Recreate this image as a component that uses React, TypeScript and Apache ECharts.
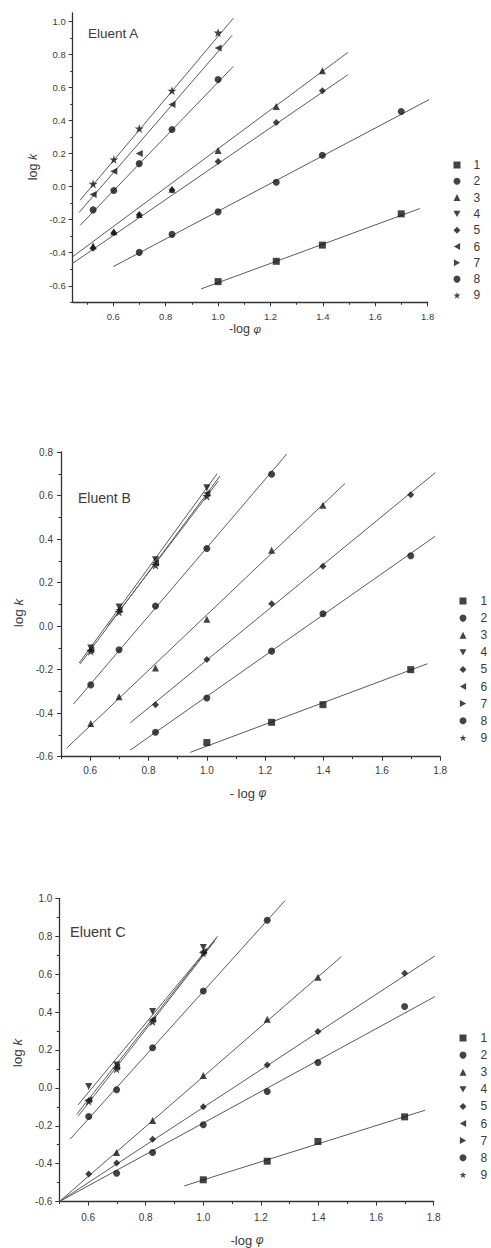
import React, { useEffect, useRef } from "react";
import * as echarts from "echarts";

// ---------- data ----------
const NAMES = ["1", "2", "3", "4", "5", "6", "7", "8", "9"];
const STAR =
  "path://M50,0L61.2,34.5L97.6,34.5L68.2,55.9L79.4,90.5L50,69.1L20.6,90.5L31.8,55.9L2.4,34.5L38.8,34.5Z";
const TRI_DOWN = "path://M0,0L10,0L5,9Z";
const TRI_LEFT = "path://M9,0L9,10L0,5Z";
const TRI_RIGHT = "path://M0,0L0,10L9,5Z";
const SYMBOLS = ["rect", "circle", "triangle", TRI_DOWN, "diamond", TRI_LEFT, TRI_RIGHT, "circle", STAR];

const X_TICKS = [0.6, 0.8, 1.0, 1.2, 1.4, 1.6, 1.8];
const X_MINOR = [0.5, 0.7, 0.9, 1.1, 1.3, 1.5, 1.7];
const Y_TICKS_A = [-0.6, -0.4, -0.2, 0.0, 0.2, 0.4, 0.6, 0.8, 1.0];
const Y_MINOR_A = [-0.7, -0.5, -0.3, -0.1, 0.1, 0.3, 0.5, 0.7, 0.9];
const Y_TICKS_B = [-0.6, -0.4, -0.2, 0.0, 0.2, 0.4, 0.6, 0.8];
const Y_MINOR_B = [-0.5, -0.3, -0.1, 0.1, 0.3, 0.5, 0.7];
const Y_TICKS_C = [-0.6, -0.4, -0.2, 0.0, 0.2, 0.4, 0.6, 0.8, 1.0];
const Y_MINOR_C = [-0.5, -0.3, -0.1, 0.1, 0.3, 0.5, 0.7, 0.9];

// Eluent A: measured points per compound 1..9 ( [-log phi, log k] )
const POINTS_A = [
  [[1.0, -0.575], [1.222, -0.452], [1.398, -0.354], [1.699, -0.165]],
  [[0.699, -0.398], [0.824, -0.289], [1.0, -0.153], [1.222, 0.026], [1.398, 0.189], [1.699, 0.454]],
  [[0.523, -0.358], [0.602, -0.273], [0.699, -0.169], [0.824, -0.016], [1.0, 0.219], [1.222, 0.484], [1.398, 0.7]],
  [],
  [[0.523, -0.373], [0.602, -0.28], [0.699, -0.17], [0.824, -0.02], [1.0, 0.152], [1.222, 0.387], [1.398, 0.58]],
  [[0.523, -0.048], [0.602, 0.092], [0.699, 0.2], [0.824, 0.496], [1.0, 0.839]],
  [],
  [[0.523, -0.141], [0.602, -0.024], [0.699, 0.139], [0.824, 0.345], [1.0, 0.648]],
  [[0.523, 0.016], [0.602, 0.164], [0.699, 0.351], [0.824, 0.58], [1.0, 0.931]],
];
// Eluent A: fitted straight lines (start, end)
const FITS_A = [
  [[0.935, -0.619], [1.77, -0.133]],
  [[0.6, -0.484], [1.81, 0.53]],
  [[0.445, -0.464], [1.495, 0.676]],
  [[0.445, -0.424], [1.495, 0.811]],
  [[0.473, -0.235], [1.058, 0.727]],
  [[0.469, -0.157], [1.054, 0.916]],
  [[0.473, -0.083], [1.058, 1.018]],
];

const POINTS_B = [
  [[1.0, -0.535], [1.222, -0.442], [1.398, -0.361], [1.699, -0.2]],
  [[0.824, -0.488], [1.0, -0.33], [1.222, -0.115], [1.398, 0.057], [1.699, 0.323]],
  [[0.602, -0.447], [0.699, -0.324], [0.824, -0.192], [1.0, 0.031], [1.222, 0.349], [1.398, 0.555]],
  [[0.602, -0.1], [0.699, 0.088], [0.824, 0.305], [1.0, 0.636]],
  [[0.824, -0.361], [1.0, -0.153], [1.222, 0.103], [1.398, 0.275], [1.699, 0.604]],
  [[0.602, -0.11], [0.699, 0.075], [0.824, 0.29], [1.0, 0.61]],
  [],
  [[0.602, -0.27], [0.699, -0.109], [0.824, 0.092], [1.0, 0.357], [1.222, 0.698]],
  [[0.602, -0.115], [0.699, 0.065], [0.824, 0.28], [1.0, 0.597]],
];
const FITS_B = [
  [[0.943, -0.58], [1.756, -0.173]],
  [[0.737, -0.57], [1.783, 0.413]],
  [[0.737, -0.445], [1.783, 0.705]],
  [[0.52, -0.56], [1.474, 0.656]],
  [[0.543, -0.358], [1.274, 0.791]],
  [[0.562, -0.17], [1.035, 0.7]],
  [[0.565, -0.175], [1.045, 0.69]],
  [[0.66, 0.0], [1.04, 0.668]],
];

const POINTS_C = [
  [[1.0, -0.485], [1.222, -0.387], [1.398, -0.283], [1.699, -0.153]],
  [[0.699, -0.45], [0.824, -0.341], [1.0, -0.195], [1.222, -0.019], [1.398, 0.134], [1.699, 0.429]],
  [[0.699, -0.341], [0.824, -0.172], [1.0, 0.065], [1.222, 0.362], [1.398, 0.584]],
  [[0.602, 0.007], [0.699, 0.12], [0.824, 0.403], [1.0, 0.74]],
  [[0.602, -0.454], [0.699, -0.397], [0.824, -0.271], [1.0, -0.099], [1.222, 0.12], [1.398, 0.297], [1.699, 0.605]],
  [[0.602, -0.063], [0.699, 0.11], [0.824, 0.36], [1.0, 0.72]],
  [],
  [[0.602, -0.151], [0.699, -0.01], [0.824, 0.212], [1.0, 0.511], [1.222, 0.884]],
  [[0.602, -0.07], [0.699, 0.1], [0.824, 0.35], [1.0, 0.711]],
];
const FITS_C = [
  [[0.934, -0.517], [1.77, -0.118]],
  [[0.5, -0.6], [1.805, 0.482]],
  [[0.5, -0.6], [1.805, 0.697]],
  [[0.5, -0.6], [1.48, 0.693]],
  [[0.5375, -0.271], [1.284, 0.988]],
  [[0.565, -0.09], [1.05, 0.8]],
  [[0.56, -0.14], [1.045, 0.79]],
  [[0.565, -0.15], [1.04, 0.775]],
];

const TITLES = ["Eluent A", "Eluent B", "Eluent C"];
const X_NAMES = ["-log ", "- log ", "-log "];

// ---------- styling / layout ----------
const FONT = '"Liberation Sans", Arial, Helvetica, sans-serif';
const TEXT = "#3a3a3a";
const AXIS = "#333";
const LINE = "#5a5a5a";
const MARK = "#141414";

const PANELS = [
  {
    grid: { left: 72.7, top: 13, width: 355, height: 289.3 },
    xMin: 0.445, yMin: -0.7, yMax: 1.05,
    yTicks: Y_TICKS_A, yMinor: Y_MINOR_A, points: POINTS_A, fits: FITS_A,
    xMargin: 9, yMargin: 7, tickFont: 9.5,
    title: { x: 88, y: 33, size: 13.5 },
    yName: { x: 33, y: 167, size: 12.5 },
    xName: { x: 245, y: 329, size: 12.5 },
    legend: { left: 448.5, top: 154, gap: 4.3, pad: 8 },
  },
  {
    grid: { left: 61, top: 452, width: 379.2, height: 304.7 },
    xMin: 0.5, yMin: -0.6, yMax: 0.8,
    yTicks: Y_TICKS_B, yMinor: Y_MINOR_B, points: POINTS_B, fits: FITS_B,
    xMargin: 9, yMargin: 8, tickFont: 10,
    title: { x: 78, y: 498, size: 14 },
    yName: { x: 18, y: 613, size: 13.5 },
    xName: { x: 248, y: 793, size: 13 },
    legend: { left: 454.5, top: 590, gap: 5.1, pad: 9 },
  },
  {
    grid: { left: 59.3, top: 898.3, width: 374.4, height: 303.3 },
    xMin: 0.5, yMin: -0.6, yMax: 1.0,
    yTicks: Y_TICKS_C, yMinor: Y_MINOR_C, points: POINTS_C, fits: FITS_C,
    xMargin: 11, yMargin: 7, tickFont: 10,
    title: { x: 70, y: 932, size: 14.5 },
    yName: { x: 17, y: 1053, size: 13.5 },
    xName: { x: 247, y: 1240, size: 13 },
    legend: { left: 454.5, top: 1027, gap: 5.1, pad: 9 },
  },
];

function buildOption() {
  const grid: any[] = [];
  const xAxis: any[] = [];
  const yAxis: any[] = [];
  const series: any[] = [];
  const legend: any[] = [];
  const graphic: any[] = [];
  const n = PANELS.length;

  PANELS.forEach((p, i) => {
    grid[i] = { ...p.grid, containLabel: false };
    grid[i + n] = { ...p.grid, containLabel: false };
    const labelStyle = { fontSize: p.tickFont, color: TEXT, fontFamily: FONT };
    xAxis[i] = {
      type: "value", gridIndex: i, min: p.xMin, max: 1.8, position: "bottom",
      axisLine: { onZero: false, lineStyle: { color: AXIS, width: 1.3 } },
      axisTick: { show: true, length: 4, customValues: X_TICKS, lineStyle: { color: AXIS, width: 1 } },
      axisLabel: { customValues: X_TICKS, margin: p.xMargin, formatter: (v: number) => v.toFixed(1), ...labelStyle },
      splitLine: { show: false },
    };
    yAxis[i] = {
      type: "value", gridIndex: i, min: p.yMin, max: p.yMax, position: "left",
      axisLine: { onZero: false, lineStyle: { color: AXIS, width: 1.3 } },
      axisTick: { show: true, length: 4, customValues: p.yTicks, lineStyle: { color: AXIS, width: 1 } },
      axisLabel: { customValues: p.yTicks, margin: p.yMargin, formatter: (v: number) => v.toFixed(1), ...labelStyle },
      splitLine: { show: false },
    };
    xAxis[i + n] = {
      type: "value", gridIndex: i + n, min: p.xMin, max: 1.8, position: "bottom",
      axisLine: { show: false, onZero: false },
      axisTick: { show: true, length: 2.5, customValues: X_MINOR, lineStyle: { color: AXIS, width: 1 } },
      axisLabel: { show: false },
      splitLine: { show: false },
    };
    yAxis[i + n] = {
      type: "value", gridIndex: i + n, min: p.yMin, max: p.yMax, position: "left",
      axisLine: { show: false, onZero: false },
      axisTick: { show: true, length: 2.5, customValues: p.yMinor, lineStyle: { color: AXIS, width: 1 } },
      axisLabel: { show: false },
      splitLine: { show: false },
    };

    p.fits.forEach((seg, k) => {
      series.push({
        type: "line", name: `fit-${i}-${k}`, xAxisIndex: i, yAxisIndex: i,
        data: seg, showSymbol: false, symbol: "none", silent: true, z: 1,
        lineStyle: { color: LINE, width: 1 },
      });
    });
    p.points.forEach((pts, k) => {
      series.push({
        type: "scatter", name: NAMES[k], xAxisIndex: i, yAxisIndex: i,
        data: pts, symbol: SYMBOLS[k],
        symbolSize: k === 8 ? 9 : 7, z: 3,
        itemStyle: { color: MARK },
      });
    });

    legend.push({
      data: NAMES, orient: "vertical", left: p.legend.left, top: p.legend.top,
      itemWidth: 7, itemHeight: 7, itemGap: p.legend.gap, selectedMode: false,
      textStyle: { fontSize: 12, color: TEXT, fontFamily: FONT, padding: [0, 0, 0, p.legend.pad] },
    });

    graphic.push({
      type: "text", x: p.title.x, y: p.title.y,
      style: { text: TITLES[i], fontSize: p.title.size, fontFamily: FONT, fill: TEXT, verticalAlign: "middle", align: "left" },
    });
    graphic.push({
      type: "text", x: p.yName.x, y: p.yName.y, rotation: Math.PI / 2,
      style: {
        text: "{n|log }{i|k}",
        rich: {
          n: { fontSize: p.yName.size, fontFamily: FONT, fill: TEXT },
          i: { fontSize: p.yName.size, fontFamily: FONT, fill: TEXT, fontStyle: "italic" },
        },
        align: "center", verticalAlign: "middle",
      },
    });
    graphic.push({
      type: "text", x: p.xName.x, y: p.xName.y,
      style: {
        text: `{n|${X_NAMES[i]}}{i|φ}`,
        rich: {
          n: { fontSize: p.xName.size, fontFamily: FONT, fill: TEXT },
          i: { fontSize: p.xName.size - 1, fontFamily: FONT, fill: TEXT, fontStyle: "italic" },
        },
        align: "center", verticalAlign: "middle",
      },
    });
  });

  return {
    animation: false,
    backgroundColor: "#ffffff",
    textStyle: { fontFamily: FONT },
    grid, xAxis, yAxis, series, legend, graphic,
  };
}

export default function App() {
  const ref = useRef<HTMLDivElement>(null);
  useEffect(() => {
    if (!ref.current) return;
    const chart = echarts.init(ref.current, undefined, { renderer: "svg" });
    chart.setOption(buildOption() as any);
    return () => chart.dispose();
  }, []);
  return (
    <div
      ref={ref}
      style={{ position: "absolute", left: 0, top: 0, width: 491, height: 1248, background: "#fff" }}
    />
  );
}
